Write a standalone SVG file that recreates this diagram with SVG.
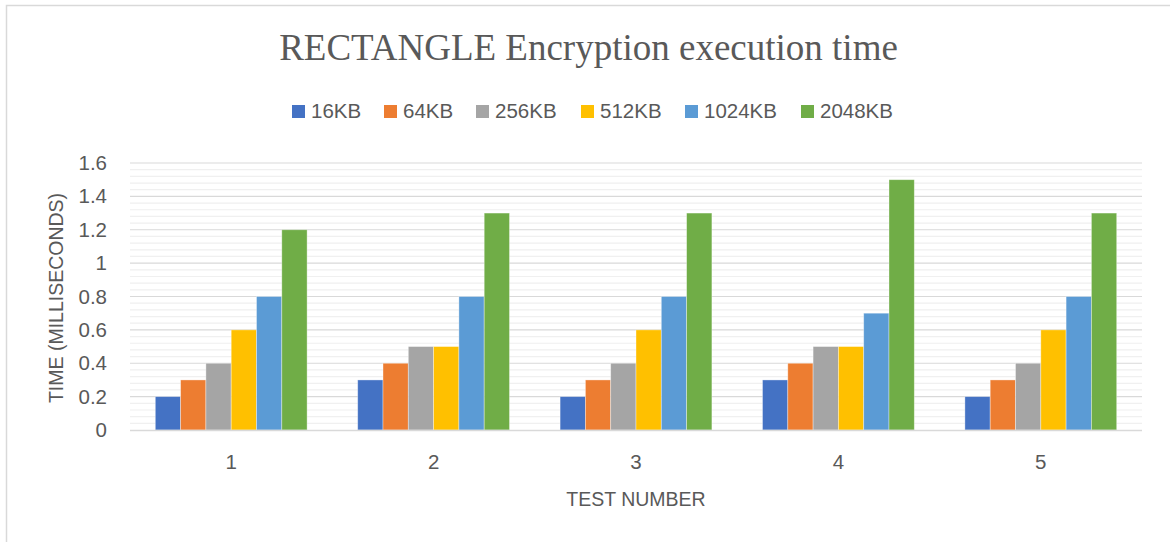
<svg xmlns="http://www.w3.org/2000/svg" width="1170" height="542" viewBox="0 0 1170 542">
  <style>
    .title { font-family: "Liberation Serif", "Times New Roman", serif; font-size: 37px; fill: #595959; }
    .lbl { font-family: "Liberation Sans", Arial, sans-serif; font-size: 20.5px; fill: #595959; }
    .axt { font-size: 19.5px; }
    .tick { text-anchor: end; }
    .cat { text-anchor: middle; }
    .s1 { fill: #4472C4; }
    .s2 { fill: #ED7D31; }
    .s3 { fill: #A5A5A5; }
    .s4 { fill: #FFC000; }
    .s5 { fill: #5B9BD5; }
    .s6 { fill: #70AD47; }
    .bars rect { stroke: #ffffff; stroke-opacity: 0.45; stroke-width: 0.8; }
  </style>

  <!-- chart background and frame -->
  <rect x="0" y="0" width="1170" height="542" fill="#ffffff"/>
  <path d="M6.5 542 V5.5 H1170" fill="none" stroke="#d9d9d9" stroke-width="1.5"/>

  <!-- title -->
  <g id="title">
    <text class="title" x="588.5" y="60" text-anchor="middle">RECTANGLE Encryption execution time</text>
  </g>

  <!-- legend -->
  <g id="legend" class="lbl">
    <rect class="s1" x="292" y="105" width="13" height="13"/>
    <text x="311" y="118">16KB</text>
    <rect class="s2" x="384" y="105" width="13" height="13"/>
    <text x="403" y="118">64KB</text>
    <rect class="s3" x="476" y="105" width="13" height="13"/>
    <text x="495" y="118">256KB</text>
    <rect class="s4" x="581" y="105" width="13" height="13"/>
    <text x="600" y="118">512KB</text>
    <rect class="s5" x="685" y="105" width="13" height="13"/>
    <text x="704" y="118">1024KB</text>
    <rect class="s6" x="801" y="105" width="13" height="13"/>
    <text x="820" y="118">2048KB</text>
  </g>

  <!-- gridlines: minor every 0.04, major every 0.2 -->
  <g id="grid" fill="none">
    <path stroke="#f0f0f0" stroke-width="1.2" d="M130 423.3H1142M130 416.65H1142M130 409.98H1142M130 403.3H1142
      M130 389.95H1142M130 383.28H1142M130 376.6H1142M130 369.93H1142
      M130 356.58H1142M130 349.9H1142M130 343.23H1142M130 336.55H1142
      M130 323.2H1142M130 316.53H1142M130 309.85H1142M130 303.18H1142
      M130 289.83H1142M130 283.15H1142M130 276.48H1142M130 269.8H1142
      M130 256.45H1142M130 249.78H1142M130 243.1H1142M130 236.43H1142
      M130 223.08H1142M130 216.4H1142M130 209.73H1142M130 203.05H1142
      M130 189.7H1142M130 183.03H1142M130 176.35H1142M130 169.68H1142"/>
    <path stroke="#d9d9d9" stroke-width="1.2" d="M130 396.63H1142M130 363.25H1142M130 329.88H1142M130 296.5H1142
      M130 263.13H1142M130 229.75H1142M130 196.38H1142M130 163H1142"/>
  </g>

  <!-- y axis -->
  <g id="y-axis" class="lbl">
    <text class="tick" x="107" y="170">1.6</text>
    <text class="tick" x="107" y="203.4">1.4</text>
    <text class="tick" x="107" y="236.8">1.2</text>
    <text class="tick" x="107" y="270.1">1</text>
    <text class="tick" x="107" y="303.5">0.8</text>
    <text class="tick" x="107" y="336.9">0.6</text>
    <text class="tick" x="107" y="370.3">0.4</text>
    <text class="tick" x="107" y="403.6">0.2</text>
    <text class="tick" x="107" y="437">0</text>
    <text class="axt" x="0" y="0" text-anchor="middle" transform="translate(63 298) rotate(-90)">TIME (MILLISECONDS)</text>
  </g>

  <!-- bars, grouped by test number -->
  <g class="bars">
    <g id="test-1">
      <rect class="s1" x="155.3" y="396.63" width="25.3" height="33.37"/>
      <rect class="s2" x="180.6" y="379.94" width="25.3" height="50.06"/>
      <rect class="s3" x="205.9" y="363.25" width="25.3" height="66.75"/>
      <rect class="s4" x="231.2" y="329.88" width="25.3" height="100.12"/>
      <rect class="s5" x="256.5" y="296.5" width="25.3" height="133.5"/>
      <rect class="s6" x="281.8" y="229.75" width="25.3" height="200.25"/>
    </g>
    <g id="test-2">
      <rect class="s1" x="357.7" y="379.94" width="25.3" height="50.06"/>
      <rect class="s2" x="383.0" y="363.25" width="25.3" height="66.75"/>
      <rect class="s3" x="408.3" y="346.56" width="25.3" height="83.44"/>
      <rect class="s4" x="433.6" y="346.56" width="25.3" height="83.44"/>
      <rect class="s5" x="458.9" y="296.5" width="25.3" height="133.5"/>
      <rect class="s6" x="484.2" y="213.06" width="25.3" height="216.94"/>
    </g>
    <g id="test-3">
      <rect class="s1" x="560.1" y="396.63" width="25.3" height="33.37"/>
      <rect class="s2" x="585.4" y="379.94" width="25.3" height="50.06"/>
      <rect class="s3" x="610.7" y="363.25" width="25.3" height="66.75"/>
      <rect class="s4" x="636.0" y="329.88" width="25.3" height="100.12"/>
      <rect class="s5" x="661.3" y="296.5" width="25.3" height="133.5"/>
      <rect class="s6" x="686.6" y="213.06" width="25.3" height="216.94"/>
    </g>
    <g id="test-4">
      <rect class="s1" x="762.5" y="379.94" width="25.3" height="50.06"/>
      <rect class="s2" x="787.8" y="363.25" width="25.3" height="66.75"/>
      <rect class="s3" x="813.1" y="346.56" width="25.3" height="83.44"/>
      <rect class="s4" x="838.4" y="346.56" width="25.3" height="83.44"/>
      <rect class="s5" x="863.7" y="313.19" width="25.3" height="116.81"/>
      <rect class="s6" x="889.0" y="179.69" width="25.3" height="250.31"/>
    </g>
    <g id="test-5">
      <rect class="s1" x="964.9" y="396.63" width="25.3" height="33.37"/>
      <rect class="s2" x="990.2" y="379.94" width="25.3" height="50.06"/>
      <rect class="s3" x="1015.5" y="363.25" width="25.3" height="66.75"/>
      <rect class="s4" x="1040.8" y="329.88" width="25.3" height="100.12"/>
      <rect class="s5" x="1066.1" y="296.5" width="25.3" height="133.5"/>
      <rect class="s6" x="1091.4" y="213.06" width="25.3" height="216.94"/>
    </g>
  </g>

  <!-- category axis -->
  <g id="x-axis" class="lbl">
    <path d="M130 430.5H1142" stroke="#d9d9d9" stroke-width="1.5" fill="none"/>
    <text class="cat" x="231.2" y="469">1</text>
    <text class="cat" x="433.6" y="469">2</text>
    <text class="cat" x="636" y="469">3</text>
    <text class="cat" x="838.4" y="469">4</text>
    <text class="cat" x="1040.8" y="469">5</text>
    <text class="cat axt" x="636" y="505.5">TEST NUMBER</text>
  </g>
</svg>
